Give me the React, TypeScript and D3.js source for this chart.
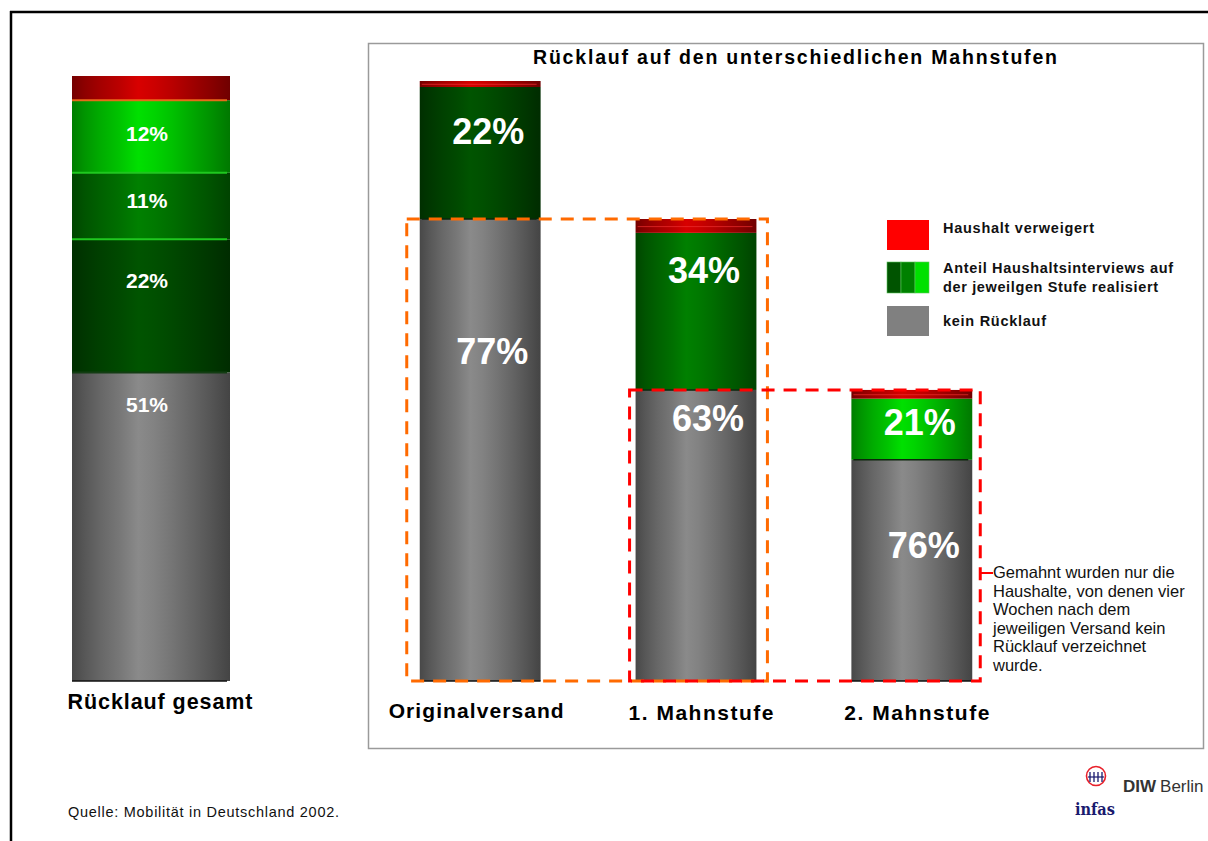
import React from "react";
import { scaleBand, scaleLinear, interpolateRgb } from "d3";

// Rücklauf je Stufe, Anteile in % der jeweiligen Stufe
const categories = ["Originalversand", "1.  Mahnstufe", "2.  Mahnstufe"];
const noReturn = [77, 63, 76];
const realized = [22, 34, 21];
const refused = [1, 3, 3];

// Rücklauf gesamt, von unten nach oben
const totalTitle = "Rücklauf gesamt";
const totalKeys = ["grey", "g0", "g1", "g2", "red"];
const totalValues = [51, 22, 11, 12, 4];
const totalLabels = ["51%", "22%", "11%", "12%", ""];

const chartTitle = "Rücklauf auf den unterschiedlichen Mahnstufen";
const legendLabels = [
  ["Haushalt verweigert"],
  ["Anteil Haushaltsinterviews auf", "der jeweilgen Stufe realisiert"],
  ["kein Rücklauf"],
];
const noteLines = [
  "Gemahnt wurden nur die",
  "Haushalte, von denen vier",
  "Wochen nach dem",
  "jeweiligen Versand kein",
  "Rücklauf verzeichnet",
  "wurde.",
];
const sourceText = "Quelle: Mobilität in Deutschland 2002.";

const FONT = "'Liberation Sans', Arial, sans-serif";

// cylinder colours: [edge, centre]
const shades = {
  grey: ["#3c3c3c", "#8a8a8a"],
  red: ["#640000", "#d80000"],
  g0: ["#002800", "#005400"],
  g1: ["#003c00", "#008000"],
  g2: ["#006c00", "#00e000"],
};
const greenKeys = ["g0", "g1", "g2"];

const stopAt = [0, 0.08, 0.18, 0.3, 0.42, 0.52, 0.64, 0.76, 0.88, 1];
const stopT = [0.15, 0.35, 0.55, 0.75, 1, 0.9, 0.72, 0.52, 0.32, 0.1];

function Cylinder({ x, width, y0, y1, shade }) {
  return (
    <rect x={x} y={y1} width={width} height={y0 - y1} fill={`url(#cyl-${shade})`} />
  );
}

export default function App() {
  const yMain = scaleLinear().domain([0, 100]).range([681, 81]);
  const yTotal = scaleLinear().domain([0, 100]).range([681, 76]);
  const x = scaleBand()
    .domain(categories)
    .range([355, 1037])
    .paddingInner(0.44)
    .paddingOuter(0.3);
  const bw = x.bandwidth();
  const totalX = 72;
  const totalW = 158;

  // each stage's height is the no-return share of the previous stage
  const bases: number[] = [];
  categories.forEach((c, i) => {
    bases.push(i === 0 ? 100 : (bases[i - 1] * noReturn[i - 1]) / 100);
  });

  // label baselines below segment tops: [grey, green]
  const mainLabelDy = [
    [145, 57],
    [41, 50],
    [98, 36],
  ];
  const totalLabelDy = [40, 49, 35, 41];

  let cum = 0;
  const totalSegs = totalValues.map((v, i) => {
    const s = { key: totalKeys[i], lo: cum, hi: cum + v, label: totalLabels[i] };
    cum += v;
    return s;
  });

  return (
    <svg
      width={1208}
      height={841}
      style={{ position: "absolute", left: 0, top: 0, background: "#fff" }}
      fontFamily={FONT}
    >
      <defs>
        {Object.entries(shades).map(([k, [edge, centre]]) => {
          const mix = interpolateRgb(edge, centre);
          return (
            <linearGradient key={k} id={`cyl-${k}`} x1="0" x2="1" y1="0" y2="0">
              {stopAt.map((o, j) => (
                <stop key={j} offset={o} stopColor={mix(stopT[j])} />
              ))}
            </linearGradient>
          );
        })}
      </defs>

      {/* outer frame */}
      <line x1={10} x2={1208} y1={12} y2={12} stroke="#000" strokeWidth={2.5} />
      <line x1={11} x2={11} y1={11} y2={841} stroke="#000" strokeWidth={2.5} />

      {/* Rücklauf gesamt */}
      {totalSegs.map((s) => (
        <Cylinder key={s.key} x={totalX} width={totalW} y0={yTotal(s.lo)} y1={yTotal(s.hi)} shade={s.key} />
      ))}
      {totalSegs.slice(1).map((s) => (
        <line
          key={`b-${s.key}`}
          x1={totalX}
          x2={totalX + totalW - 3}
          y1={yTotal(s.lo)}
          y2={yTotal(s.lo)}
          stroke={s.key === "red" ? "#e86a1a" : s.key === "g0" ? "#123d12" : "#1fc81f"}
          strokeWidth={2}
        />
      ))}
      <line x1={totalX} x2={totalX + totalW - 3} y1={yTotal(0)} y2={yTotal(0)} stroke="#111" strokeWidth={1.5} />
      {totalSegs.map((s, i) =>
        s.label ? (
          <text
            key={`l-${s.key}`}
            x={totalX + totalW / 2 - 4}
            y={yTotal(s.hi) + totalLabelDy[i]}
            textAnchor="middle"
            fontSize={21}
            fontWeight="bold"
            fill="#fff"
          >
            {s.label}
          </text>
        ) : null
      )}
      <text
        x={totalX + totalW / 2 + 9}
        y={709}
        textAnchor="middle"
        fontSize={21.5}
        fontWeight="bold"
        textLength={185}
        lengthAdjust="spacing"
      >
        {totalTitle}
      </text>

      {/* inner panel */}
      <rect x={368.5} y={43.5} width={835} height={705} fill="none" stroke="#9a9a9a" strokeWidth={1.5} />
      <text x={795} y={64} textAnchor="middle" fontSize={19.5} fontWeight="bold" textLength={524} lengthAdjust="spacing">
        {chartTitle}
      </text>

      {categories.map((c, i) => {
        const b = bases[i];
        const x0 = x(c) as number;
        const yGrey = yMain((b * noReturn[i]) / 100);
        const yGreen = yMain((b * (noReturn[i] + realized[i])) / 100);
        const yTop = yMain((b * (noReturn[i] + realized[i] + refused[i])) / 100);
        const redLine = yTop + (yGreen - yTop) * 0.55;
        return (
          <g key={c}>
            <Cylinder x={x0} width={bw} y0={yMain(0)} y1={yGrey} shade="grey" />
            <Cylinder x={x0} width={bw} y0={yGrey} y1={yGreen} shade={greenKeys[i]} />
            <Cylinder x={x0} width={bw} y0={yGreen} y1={yTop} shade="red" />
            <line x1={x0 + 2} x2={x0 + bw - 4} y1={redLine} y2={redLine} stroke="#ee3030" strokeWidth={1} opacity={0.7} />
            <line x1={x0 + 2} x2={x0 + bw - 4} y1={yGrey} y2={yGrey} stroke="#0b260b" strokeWidth={1.5} />
            <line x1={x0} x2={x0 + bw} y1={yMain(0)} y2={yMain(0)} stroke="#111" strokeWidth={1.5} />
            <text
              x={x0 + bw / 2 + 12}
              y={yGrey + mainLabelDy[i][0]}
              textAnchor="middle"
              fontSize={36}
              fontWeight="bold"
              fill="#fff"
            >
              {noReturn[i]}%
            </text>
            <text
              x={x0 + bw / 2 + 8}
              y={yGreen + mainLabelDy[i][1]}
              textAnchor="middle"
              fontSize={36}
              fontWeight="bold"
              fill="#fff"
            >
              {realized[i]}%
            </text>
            <text
              x={x0 + bw / 2 + (i === 0 ? -4 : 5)}
              y={i === 0 ? 718 : 720}
              textAnchor="middle"
              fontSize={21}
              fontWeight="bold"
              textLength={i === 0 ? 175 : 145}
              lengthAdjust="spacing"
            >
              {c}
            </text>
          </g>
        );
      })}

      {/* dashed selections: who got a reminder */}
      {categories.slice(1).map((c, i) => {
        const prev = categories[i];
        const xa = (x(prev) as number) - (i === 0 ? 13 : 6);
        const xb = (x(c) as number) + bw + (i === 0 ? 11 : 8);
        const yt = yMain(bases[i + 1]);
        return (
          <rect
            key={`sel-${c}`}
            x={xa}
            y={yt}
            width={xb - xa}
            height={yMain(0) - yt}
            fill="none"
            stroke={i === 0 ? "#ff6a00" : "#ff0000"}
            strokeWidth={3}
            strokeDasharray="13 9"
          />
        );
      })}

      {/* note */}
      <line x1={981} x2={993} y1={573} y2={573} stroke="#ff0000" strokeWidth={2} />
      {noteLines.map((t, i) => (
        <text key={t} x={993} y={578 + i * 18.6} fontSize={16.5} fill="#111">
          {t}
        </text>
      ))}

      {/* legend */}
      <rect x={887} y={220} width={42} height={30} fill="#ff0000" />
      {greenKeys.map((k, j) => (
        <rect key={k} x={887 + j * 14} y={262} width={14} height={31} fill={shades[k][1]} stroke="#5ac85a" strokeWidth={0.6} />
      ))}
      <rect x={887} y={306} width={42} height={30} fill="#808080" />
      {[[233], [273, 292], [326]].map((ys, i) =>
        ys.map((yy, j) => (
          <text
            key={`${i}-${j}`}
            x={943}
            y={yy}
            fontSize={14.5}
            fontWeight="bold"
            fill="#111"
            textLength={[[151], [230, 215], [103]][i][j]}
            lengthAdjust="spacing"
          >
            {legendLabels[i][j]}
          </text>
        ))
      )}

      {/* source */}
      <text x={68} y={817} fontSize={14.5} fill="#111" textLength={271} lengthAdjust="spacing">
        {sourceText}
      </text>

      {/* logos */}
      <g>
        <circle cx={1096} cy={776} r={9.5} fill="none" stroke="#e8202a" strokeWidth={1.6} />
        {[1090, 1094, 1098, 1102].map((lx) => (
          <line key={lx} x1={lx} x2={lx} y1={772} y2={782} stroke="#1a1a6e" strokeWidth={1.3} />
        ))}
        <line x1={1088} x2={1104} y1={777} y2={777} stroke="#1a1a6e" strokeWidth={1.2} />
        <text x={1075} y={815} fontFamily="'DejaVu Serif', serif" fontWeight="bold" fontSize={17} fill="#1a1a6e" textLength={40} lengthAdjust="spacingAndGlyphs">
          infas
        </text>
        <text x={1123} y={792} fontSize={17} fill="#333">
          <tspan fontWeight="bold">DIW</tspan>
          <tspan dx={4}>Berlin</tspan>
        </text>
      </g>
    </svg>
  );
}
